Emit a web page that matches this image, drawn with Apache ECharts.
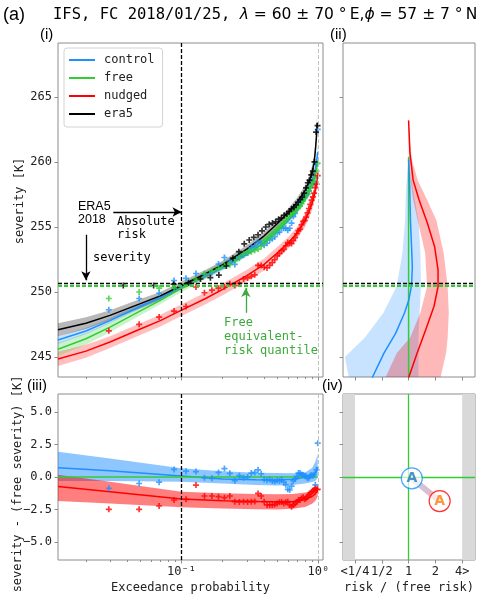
<!DOCTYPE html>
<html>
<head>
<meta charset="utf-8">
<script src="https://cdn.jsdelivr.net/npm/echarts@6/dist/echarts.min.js"></script>
<style>
html, body { margin: 0; padding: 0; background: #fff; }
#chart { width: 485px; height: 600px; }
</style>
</head>
<body>
<div id="chart"></div>
<script>
// exceedance probabilities of the fitted curves, panel (i)
var P_FIT = [0.0125, 0.02, 0.03, 0.05, 0.07, 0.1, 0.15, 0.2, 0.3, 0.4, 0.5, 0.6, 0.7, 0.8, 0.85, 0.9, 0.93, 0.95, 0.97, 0.98, 0.99];
var FREE_FIT = [245.6, 246.4, 247.3, 248.55, 249.35, 250.3, 251.3, 252.0, 253.1, 254.0, 254.9, 255.65, 256.4, 257.2, 257.7, 258.3, 258.75, 259.1, 259.5, 259.75, 260.0];
var FREE_LO = [245.1, 245.95, 246.9, 248.2, 249.05, 250.0, 251.0, 251.7, 252.8, 253.7, 254.6, 255.35, 256.1, 256.9, 257.4, 257.95, 258.4, 258.7, 259.1, 259.3, 259.5];
var FREE_HI = [246.1, 246.85, 247.7, 248.9, 249.65, 250.6, 251.6, 252.3, 253.4, 254.3, 255.2, 255.95, 256.7, 257.5, 258.0, 258.65, 259.1, 259.5, 259.9, 260.2, 260.5];
var CONTROL_FIT = [246.3, 247.0, 247.8, 248.9, 249.55, 250.4, 251.25, 251.85, 252.9, 253.8, 254.7, 255.45, 256.25, 257.2, 257.75, 258.4, 258.95, 259.4, 260.0, 260.35, 260.75];
var CONTROL_LO = [246.0, 246.75, 247.6, 248.7, 249.35, 250.2, 251.05, 251.65, 252.7, 253.6, 254.5, 255.25, 256.05, 256.95, 257.5, 258.1, 258.6, 259.0, 259.5, 259.8, 260.1];
var CONTROL_HI = [246.6, 247.25, 248.0, 249.1, 249.75, 250.6, 251.45, 252.05, 253.1, 254.0, 254.9, 255.65, 256.45, 257.45, 258.0, 258.7, 259.3, 259.8, 260.5, 260.9, 261.4];
var NUDGED_FIT = [244.85, 245.45, 246.15, 247.15, 247.8, 248.6, 249.5, 250.2, 251.25, 252.1, 253.0, 253.75, 254.55, 255.5, 256.1, 256.8, 257.35, 257.8, 258.35, 258.65, 259.0];
var NUDGED_LO = [244.3, 244.95, 245.7, 246.7, 247.35, 248.15, 249.05, 249.75, 250.8, 251.65, 252.55, 253.3, 254.1, 255.0, 255.6, 256.3, 256.8, 257.2, 257.7, 258.0, 258.3];
var NUDGED_HI = [245.4, 245.95, 246.6, 247.6, 248.25, 249.05, 249.95, 250.65, 251.7, 252.55, 253.45, 254.2, 255.0, 256.0, 256.6, 257.3, 257.9, 258.4, 259.0, 259.3, 259.7];
// era5 fit stops at p = 0.98
var ERA5_FIT = [247.1, 247.6, 248.2, 249.1, 249.7, 250.5, 251.4, 252.1, 253.3, 254.3, 255.25, 256.1, 256.9, 257.8, 258.4, 259.2, 259.9, 260.8, 262.0, 263.0];
var ERA5_LO = [246.6, 247.15, 247.8, 248.75, 249.4, 250.2, 251.1, 251.8, 253.0, 254.0, 254.95, 255.8, 256.55, 257.4, 257.95, 258.7, 259.35, 260.2, 261.3, 262.2];
var ERA5_HI = [247.6, 248.05, 248.6, 249.45, 250.0, 250.8, 251.7, 252.4, 253.6, 254.6, 255.55, 256.4, 257.25, 258.2, 258.85, 259.7, 260.45, 261.4, 262.7, 263.8];

// empirical quantiles (the + marks)
var P_MODEL = [0.0294, 0.0490, 0.0686, 0.0882, 0.1078, 0.1275, 0.1471, 0.1667, 0.1863, 0.2059,
  0.2255, 0.2451, 0.2647, 0.2843, 0.3039, 0.3235, 0.3431, 0.3627, 0.3824, 0.4020,
  0.4216, 0.4412, 0.4608, 0.4804, 0.5000, 0.5196, 0.5392, 0.5588, 0.5784, 0.5980,
  0.6176, 0.6373, 0.6569, 0.6765, 0.6961, 0.7157, 0.7353, 0.7549, 0.7745, 0.7941,
  0.8137, 0.8333, 0.8529, 0.8725, 0.8922, 0.9118, 0.9314, 0.9510, 0.9706, 0.9902];
var FREE_PTS = [249.5, 250.0, 250.3, 250.3, 250.6, 251.0, 251.4, 251.6, 251.8, 252.0,
  252.1, 252.4, 252.6, 252.9, 253.0, 253.1, 253.2, 253.3, 253.5, 253.8,
  254.0, 254.2, 254.4, 254.6, 254.8, 254.9, 255.1, 255.3, 255.5, 255.7,
  255.9, 256.0, 256.1, 256.2, 256.4, 256.5, 256.6, 256.8, 257.0, 257.2,
  257.4, 257.6, 257.8, 258.0, 258.2, 258.4, 258.6, 258.9, 259.3, 259.9];
// severity - free severity, panel (iii)
var CONTROL_DIFF = [-0.87, -0.50, -0.40, 0.58, 0.45, 0.42, -0.05, -0.10, 0.35, 0.65,
  0.28, -0.28, 0.10, -0.05, 0.00, 0.30, 0.35, 0.55, 0.25, -0.20,
  -0.25, -0.20, -0.30, -0.35, -0.25, -0.30, -0.20, -0.40, -0.60, -0.95,
  -1.00, -0.70, -0.30, -0.15, 0.05, 0.30, 0.30, 0.20, 0.15, 0.10,
  0.05, -0.10, -0.05, 0.10, 0.15, 0.10, 0.20, -0.60, 0.55, 2.60];
var NUDGED_DIFF = [-2.49, -2.49, -2.23, -1.77, -1.72, -0.62, -1.46, -1.46, -1.51, -1.59,
  -1.46, -1.90, -1.92, -1.90, -1.92, -1.90, -1.88, -1.26, -1.46, -1.90,
  -2.15, -2.15, -2.15, -2.12, -2.03, -1.95, -1.92, -2.03, -1.95, -1.90,
  -2.15, -2.28, -2.15, -2.03, -1.92, -1.77, -1.77, -1.64, -1.56, -1.72,
  -1.64, -1.51, -1.38, -1.26, -1.13, -1.08, -1.00, -0.87, -1.00, -0.95];
var P_ERA5 = [0.0375, 0.0625, 0.0875, 0.1125, 0.1375, 0.1625, 0.1875, 0.2125, 0.2375, 0.2625,
  0.2875, 0.3125, 0.3375, 0.3625, 0.3875, 0.4125, 0.4375, 0.4625, 0.4875, 0.5125,
  0.5375, 0.5625, 0.5875, 0.6125, 0.6375, 0.6625, 0.6875, 0.7125, 0.7375, 0.7625,
  0.7875, 0.8125, 0.8375, 0.8625, 0.8875, 0.9125, 0.9375, 0.9625, 0.9875];
var ERA5_PTS = [250.5, 250.5, 250.6, 250.7, 251.0, 251.1, 251.3, 252.0, 252.6, 253.1,
  253.7, 254.0, 254.2, 254.4, 254.7, 255.0, 255.2, 255.3, 255.4, 255.6,
  255.7, 255.9, 256.0, 256.2, 256.4, 256.5, 256.7, 256.9, 257.1, 257.3,
  257.6, 258.0, 258.4, 258.6, 259.0, 259.3, 260.0, 262.3, 262.8];

// fitted differences, panel (iii)
var P_DIFF = [0.0125, 0.03, 0.1, 0.2, 0.35, 0.5, 0.65, 0.8, 0.9, 0.95, 0.99];
var CTRL_D_FIT = [0.72, 0.48, 0.08, -0.15, -0.22, -0.23, -0.18, -0.02, 0.12, 0.30, 0.75];
var CTRL_D_LO = [-0.30, -0.30, -0.36, -0.50, -0.62, -0.65, -0.62, -0.50, -0.38, -0.30, -0.05];
var CTRL_D_HI = [1.95, 1.42, 0.67, 0.45, 0.33, 0.30, 0.28, 0.35, 0.70, 1.15, 1.75];
var NUDG_D_FIT = [-0.74, -1.13, -1.69, -1.83, -1.88, -1.90, -1.90, -1.72, -1.50, -1.30, -1.00];
var NUDG_D_LO = [-1.85, -2.03, -2.33, -2.43, -2.49, -2.50, -2.45, -2.30, -2.05, -1.85, -1.50];
var NUDG_D_HI = [0.18, -0.36, -1.13, -1.25, -1.31, -1.33, -1.30, -1.20, -1.05, -0.85, -0.55];

// panel (ii): log2(risk / free risk) against severity
var SEV_CB = [243.4, 245.0, 246.5, 248.4, 250.4, 253.0, 255.5, 257.0, 258.1, 259.3, 260.2];
var CB_LO = [-2.23, -2.38, -1.63, -0.94, -0.45, -0.23, -0.13, -0.11, -0.09, -0.04, 0];
var CB_HI = [0.37, 0.37, 0.37, 0.41, 0.46, 0.44, 0.37, 0.24, 0.15, 0.05, 0];
var SEV_NB = [243.4, 245.3, 246.5, 248.4, 250.4, 253.0, 255.5, 257.1, 258.6, 260.2, 261.8, 263.2];
var NB_LO = [-0.87, -0.44, 0.06, 0.44, 0.69, 0.62, 0.34, 0.17, 0.07, 0.01, 0, 0];
var NB_HI = [1.19, 1.40, 1.46, 1.50, 1.46, 1.31, 1.04, 0.69, 0.34, 0.12, 0.04, 0];
var SEV_C2 = [243.4, 245.3, 246.8, 248.4, 249.4, 250.5, 251.9, 253.5, 255.5, 258.1, 260.2];
var C2_X = [-1.36, -0.92, -0.49, -0.15, 0.01, 0.11, 0.14, 0.11, 0.07, 0.04, 0];
var SEV_N2 = [243.4, 245.3, 247.1, 248.9, 250.4, 251.7, 253.5, 255.3, 257.1, 258.6, 260.7, 263.2];
var N2_X = [0, 0.32, 0.64, 0.95, 1.10, 1.10, 0.97, 0.70, 0.39, 0.17, 0.05, 0];
var FREE_RATIO_TOP = 260.4;

// panel (iv): [log2 risk ratio, severity change] of the 2018 event
var CONTROL_EVENT = [0.12, -0.1];
var NUDGED_EVENT = [1.16, -1.85];

// 2018 event
var ERA5_2018_SEV = 250.65;
var FREE_EQUIV_SEV = 250.5;
var ERA5_2018_RISK = 0.1;

// axes
var P_MIN = 0.0125, P_MAX = 1.082;
var SEV_MIN = 243.46, SEV_MAX = 269.15;
var DIFF_MIN = -6.385, DIFF_MAX = 6.385;
var R_MIN = -2.45, R_MAX = 2.48;
var SEV_TICKS = [245, 250, 255, 260, 265];
var DIFF_TICKS = [-5, -2.5, 0, 2.5, 5];
var P_MAJOR = [0.1, 1];
var P_MAJOR_TEXT = ['10⁻¹', '10⁰'];
var P_MINOR = [0.02, 0.03, 0.04, 0.05, 0.06, 0.07, 0.08, 0.09, 0.2, 0.3, 0.4, 0.5, 0.6, 0.7, 0.8, 0.9];
var RATIO_TICKS = [-2, -1, 0, 1, 2];
var RATIO_TEXT = ['<1/4', '1/2', '1', '2', '4>'];

var C_CONTROL = '#1e90ff', C_FREE = '#32cd32', C_NUDGED = '#ff0000', C_ERA5 = '#000000';
var MONO = 'DejaVu Sans Mono';
var FRAME = '#8c8c8c';
var PLUS = 'path://M3.6,0H6.4V3.6H10V6.4H6.4V10H3.6V6.4H0V3.6H3.6Z';

var lg = function (p) { return Math.log10(p); };
function pairs(xs, ys, fx) {
  return ys.map(function (y, i) { return [fx ? fx(xs[i]) : xs[i], y]; });
}
function sumArr(a, b) { return a.map(function (v, i) { return +(v + b[i]).toFixed(3); }); }

// band between lo and hi, drawn as one polygon through the axes
function band(xs, lo, hi, color, xi, yi, horizontal) {
  return {
    type: 'custom', xAxisIndex: xi, yAxisIndex: yi, silent: true, z: 1, clip: true,
    data: [horizontal ? [lo[0], xs[0]] : [xs[0], lo[0]]],
    renderItem: function (params, api) {
      var pts = [], i;
      for (i = 0; i < xs.length; i++) pts.push(api.coord(horizontal ? [lo[i], xs[i]] : [xs[i], lo[i]]));
      for (i = xs.length - 1; i >= 0; i--) pts.push(api.coord(horizontal ? [hi[i], xs[i]] : [xs[i], hi[i]]));
      return { type: 'polygon', shape: { points: pts }, style: { fill: color } };
    }
  };
}
function curve(name, data, color, xi, yi, extra) {
  var s = {
    name: name, type: 'line', xAxisIndex: xi, yAxisIndex: yi, data: data,
    symbol: 'none', showSymbol: false, color: color, silent: true, z: 3,
    lineStyle: { color: color, width: 1.5 }
  };
  for (var k in extra) s[k] = extra[k];
  return s;
}
function pluses(name, data, color, xi, yi) {
  return {
    name: name, type: 'scatter', xAxisIndex: xi, yAxisIndex: yi, data: data,
    symbol: PLUS, symbolSize: 6, itemStyle: { color: color }, silent: true, z: 4
  };
}
function findText(vals, texts, v) {
  for (var i = 0; i < vals.length; i++) if (Math.abs(vals[i] - v) < 1e-6) return texts[i];
  return '';
}
function xAx(grid, min, max, ticks, len, label) {
  var a = {
    type: 'value', gridIndex: grid, min: min, max: max, position: 'bottom',
    axisLine: { show: false, onZero: false }, splitLine: { show: false },
    axisTick: { show: true, length: len, lineStyle: { color: FRAME }, customValues: ticks },
    axisLabel: { show: false }
  };
  if (label) {
    a.axisLabel = { show: true, customValues: ticks, margin: 6, color: '#222', fontFamily: MONO, fontSize: 12, formatter: label.fmt };
    a.name = label.name;
    a.nameLocation = 'middle';
    a.nameGap = 22;
    a.nameMoveOverlap = false;
    a.nameTextStyle = { color: '#222', fontFamily: MONO, fontSize: 12 };
  }
  return a;
}
function yAx(grid, min, max, ticks, fmt) {
  return {
    type: 'value', gridIndex: grid, min: min, max: max, position: 'left',
    axisLine: { show: false, onZero: false }, splitLine: { show: false },
    axisTick: { show: true, length: 3.5, lineStyle: { color: FRAME }, customValues: ticks },
    axisLabel: fmt ? { show: true, customValues: ticks, margin: 6, color: '#222', fontFamily: MONO, fontSize: 12, formatter: fmt } : { show: false }
  };
}
function gridBox(left, top, width, height) {
  return { left: left, top: top, width: width, height: height, show: true, borderColor: FRAME, borderWidth: 1,
    backgroundColor: 'transparent', containLabel: false, outerBoundsMode: 'none' };
}

var X_FIT = P_FIT.map(lg);
var X_DIFF = P_DIFF.map(lg);
var CONTROL_PTS = sumArr(FREE_PTS, CONTROL_DIFF);
var NUDGED_PTS = sumArr(FREE_PTS, NUDGED_DIFF);
var pFmt = function (v) { return findText(P_MAJOR.map(lg), P_MAJOR_TEXT, v); };
var rFmt = function (v) { return findText(RATIO_TICKS, RATIO_TEXT, v); };
var sevFmt = function (v) { return String(v); };
var diffFmt = function (v) { return (v < 0 ? '\u2212' : '') + Math.abs(v).toFixed(1); };

var dashed = function (color, w) { return { color: color, width: w, type: [4, 2] }; };

var series = [
  // ---- (i) ----
  band(X_FIT, NUDGED_LO, NUDGED_HI, 'rgba(255,0,0,0.25)', 0, 0),
  band(X_FIT, FREE_LO, FREE_HI, 'rgba(50,205,50,0.25)', 0, 0),
  band(X_FIT, CONTROL_LO, CONTROL_HI, 'rgba(30,144,255,0.25)', 0, 0),
  band(X_FIT.slice(0, ERA5_FIT.length), ERA5_LO, ERA5_HI, 'rgba(0,0,0,0.28)', 0, 0),
  curve('control', pairs(X_FIT, CONTROL_FIT), C_CONTROL, 0, 0, {
    markLine: {
      silent: true, symbol: ['none', 'none'], label: { show: false }, animation: false,
      data: [
        { xAxis: lg(ERA5_2018_RISK), lineStyle: dashed('#000', 1.3) },
        { xAxis: 0, lineStyle: dashed('#c0c0c0', 1) },
        { yAxis: ERA5_2018_SEV, lineStyle: dashed('#000', 1.3) },
        { yAxis: FREE_EQUIV_SEV, lineStyle: dashed(C_FREE, 2) }
      ]
    }
  }),
  curve('free', pairs(X_FIT, FREE_FIT), C_FREE, 0, 0),
  curve('nudged', pairs(X_FIT, NUDGED_FIT), C_NUDGED, 0, 0),
  curve('era5', pairs(X_FIT, ERA5_FIT), C_ERA5, 0, 0, {
    markLine: {
      silent: true, symbol: ['none', 'arrow'], symbolSize: [7, 9], label: { show: false }, animation: false,
      data: [
        [{ coord: [lg(0.0317), 256.15] }, { coord: [lg(ERA5_2018_RISK), 256.15] }],
        [{ coord: [lg(0.02), 254.4] }, { coord: [lg(0.02), 250.9] }],
        [{ coord: [lg(0.295), 248.4], lineStyle: { color: '#3caa3c', width: 1.3, type: 'solid' }, itemStyle: { color: '#3caa3c' } },
         { coord: [lg(0.295), 250.3], lineStyle: { color: '#3caa3c' }, itemStyle: { color: '#3caa3c' } }]
      ],
      lineStyle: { color: '#000', width: 1.3, type: 'solid' }
    }
  }),
  pluses('control pts', pairs(P_MODEL, CONTROL_PTS, lg), C_CONTROL, 0, 0),
  pluses('free pts', pairs(P_MODEL, FREE_PTS, lg), C_FREE, 0, 0),
  pluses('nudged pts', pairs(P_MODEL, NUDGED_PTS, lg), C_NUDGED, 0, 0),
  pluses('era5 pts', pairs(P_ERA5, ERA5_PTS, lg), C_ERA5, 0, 0),

  // ---- (ii) ----
  band(SEV_CB, CB_LO, CB_HI, 'rgba(30,144,255,0.25)', 2, 1, true),
  band(SEV_NB, NB_LO, NB_HI, 'rgba(255,0,0,0.28)', 2, 1, true),
  curve('free ratio', [[0, SEV_MIN], [0, FREE_RATIO_TOP]], C_FREE, 2, 1, {
    markLine: {
      silent: true, symbol: ['none', 'none'], label: { show: false }, animation: false,
      data: [
        { yAxis: ERA5_2018_SEV, lineStyle: dashed('#000', 1.3) },
        { yAxis: FREE_EQUIV_SEV, lineStyle: dashed(C_FREE, 2) }
      ]
    }
  }),
  curve('control ratio', pairs(C2_X, SEV_C2), C_CONTROL, 2, 1),
  curve('nudged ratio', pairs(N2_X, SEV_N2), C_NUDGED, 2, 1),

  // ---- (iii) ----
  band(X_DIFF, CTRL_D_LO, CTRL_D_HI, 'rgba(30,144,255,0.5)', 3, 2),
  band(X_DIFF, NUDG_D_LO, NUDG_D_HI, 'rgba(255,0,0,0.5)', 3, 2),
  curve('control diff', pairs(X_DIFF, CTRL_D_FIT), C_CONTROL, 3, 2),
  curve('nudged diff', pairs(X_DIFF, NUDG_D_FIT), C_NUDGED, 3, 2),
  curve('free diff', [[X_DIFF[0], 0], [X_DIFF[X_DIFF.length - 1], 0]], C_FREE, 3, 2, {
    markLine: {
      silent: true, symbol: ['none', 'none'], label: { show: false }, animation: false,
      data: [
        { xAxis: lg(ERA5_2018_RISK), lineStyle: dashed('#000', 1.3) },
        { xAxis: 0, lineStyle: dashed('#c0c0c0', 1) }
      ]
    }
  }),
  pluses('control diff pts', pairs(P_MODEL, CONTROL_DIFF, lg), C_CONTROL, 3, 2),
  pluses('nudged diff pts', pairs(P_MODEL, NUDGED_DIFF, lg), C_NUDGED, 3, 2),

  // ---- (iv) ----
  {
    type: 'line', xAxisIndex: 5, yAxisIndex: 3, data: [CONTROL_EVENT, NUDGED_EVENT],
    symbol: 'none', silent: true, z: 2,
    lineStyle: {
      width: 6,
      color: new echarts.graphic.LinearGradient(0, 0, 1, 0, [
        { offset: 0, color: 'rgba(30,144,255,0.35)' },
        { offset: 1, color: 'rgba(255,0,0,0.35)' }
      ])
    },
    markArea: {
      silent: true, itemStyle: { color: '#d9d9d9' },
      data: [[{ xAxis: R_MIN }, { xAxis: RATIO_TICKS[0] }], [{ xAxis: RATIO_TICKS[4] }, { xAxis: R_MAX }]]
    },
    markLine: {
      silent: true, symbol: ['none', 'none'], label: { show: false }, animation: false,
      lineStyle: { color: C_FREE, width: 1.3, type: 'solid' },
      data: [{ xAxis: 0 }, { yAxis: 0 }]
    }
  },
  {
    type: 'scatter', xAxisIndex: 5, yAxisIndex: 3, silent: true, z: 5,
    data: [
      { value: CONTROL_EVENT, itemStyle: { borderColor: C_CONTROL }, label: { color: '#1f77b4' } },
      { value: NUDGED_EVENT, itemStyle: { borderColor: C_NUDGED }, label: { color: '#ff7f0e' } }
    ],
    symbol: 'circle', symbolSize: 21,
    itemStyle: { color: 'rgba(255,255,255,0.85)', borderWidth: 1.2 },
    label: { show: true, position: 'inside', formatter: 'A', fontFamily: 'DejaVu Sans', fontWeight: 'bold', fontSize: 14 }
  }
];

var txt = function (x, y, text, size, family, color, extra) {
  var st = { text: text, fontSize: size, fontFamily: family, fill: color || '#000', align: 'left', verticalAlign: 'middle' };
  var g = { type: 'text', x: x, y: y, z: 100, silent: true, style: st };
  for (var k in extra) g[k] = extra[k];
  return g;
};

var option = {
  animation: false,
  backgroundColor: '#fff',
  grid: [
    gridBox(58, 43, 265, 334),
    gridBox(343, 43, 132, 334),
    gridBox(58, 394, 265, 166),
    gridBox(343, 394, 132, 166)
  ],
  xAxis: [
    xAx(0, lg(P_MIN), lg(P_MAX), P_MAJOR.map(lg), 3.5),
    xAx(0, lg(P_MIN), lg(P_MAX), P_MINOR.map(lg), 2),
    xAx(1, R_MIN, R_MAX, RATIO_TICKS, 3.5),
    xAx(2, lg(P_MIN), lg(P_MAX), P_MAJOR.map(lg), 3.5, { fmt: pFmt, name: 'Exceedance probability' }),
    xAx(2, lg(P_MIN), lg(P_MAX), P_MINOR.map(lg), 2),
    xAx(3, R_MIN, R_MAX, RATIO_TICKS, 3.5, { fmt: rFmt, name: 'risk / (free risk)' })
  ],
  yAxis: [
    yAx(0, SEV_MIN, SEV_MAX, SEV_TICKS, sevFmt),
    yAx(1, SEV_MIN, SEV_MAX, SEV_TICKS),
    yAx(2, DIFF_MIN, DIFF_MAX, DIFF_TICKS, diffFmt),
    yAx(3, DIFF_MIN, DIFF_MAX, DIFF_TICKS)
  ],
  legend: {
    data: ['control', 'free', 'nudged', 'era5'],
    orient: 'vertical', left: 64, top: 48,
    padding: [5, 8, 6, 5], itemGap: 4,
    itemWidth: 26, itemHeight: 2, icon: 'rect',
    backgroundColor: '#fff', borderColor: '#d4d4d4', borderWidth: 1, borderRadius: 3,
    selectedMode: false,
    textStyle: { fontFamily: MONO, fontSize: 12, color: '#222', lineHeight: 14, padding: [0, 0, 0, 4] }
  },
  graphic: [
    txt(3, 15, '(a)', 18, 'Liberation Sans'),
    {
      type: 'text', x: 53, y: 15, z: 100, silent: true,
      style: {
        text: '{m|IFS, FC 2018/01/25, }{i|λ}{r| = 60 ± 70 °\u2009E,}{i|ϕ}{r| = 57 ± 7 °\u2009N}',
        verticalAlign: 'middle', align: 'left',
        rich: {
          m: { fontFamily: MONO, fontSize: 15.5, fill: '#000' },
          i: { fontFamily: 'DejaVu Sans', fontStyle: 'italic', fontSize: 15.5, fill: '#000' },
          r: { fontFamily: 'DejaVu Sans', fontSize: 15.5, fill: '#000' }
        }
      }
    },
    txt(40, 35, '(i)', 15, 'Liberation Sans'),
    txt(330, 35, '(ii)', 15, 'Liberation Sans'),
    txt(27, 386, '(iii)', 15, 'Liberation Sans'),
    txt(322, 386, '(iv)', 15, 'Liberation Sans'),
    txt(20, 201, 'severity [K]', 12, MONO, '#222', { rotation: Math.PI / 2 }),
    txt(18, 484, 'severity - (free severity) [K]', 12, MONO, '#222', { rotation: Math.PI / 2 }),
    txt(78, 207, 'ERA5', 12.5, 'Liberation Sans Narrow, Liberation Sans'),
    txt(78, 220, '2018', 12.5, 'Liberation Sans Narrow, Liberation Sans'),
    txt(117, 222, 'Absolute', 12, MONO),
    txt(117, 235, 'risk', 12, MONO),
    txt(93, 258, 'severity', 12, MONO),
    txt(224, 323, 'Free', 12, MONO, '#3caa3c'),
    txt(224, 337, 'equivalent-', 12, MONO, '#3caa3c'),
    txt(224, 351, 'risk quantile', 12, MONO, '#3caa3c')
  ],
  series: series
};

// center the rotated axis titles on their anchor
option.graphic.forEach(function (g) {
  if (g.rotation) { g.style.align = 'center'; }
});

var chart = echarts.init(document.getElementById('chart'));
chart.setOption(option);
</script>
</body>
</html>
